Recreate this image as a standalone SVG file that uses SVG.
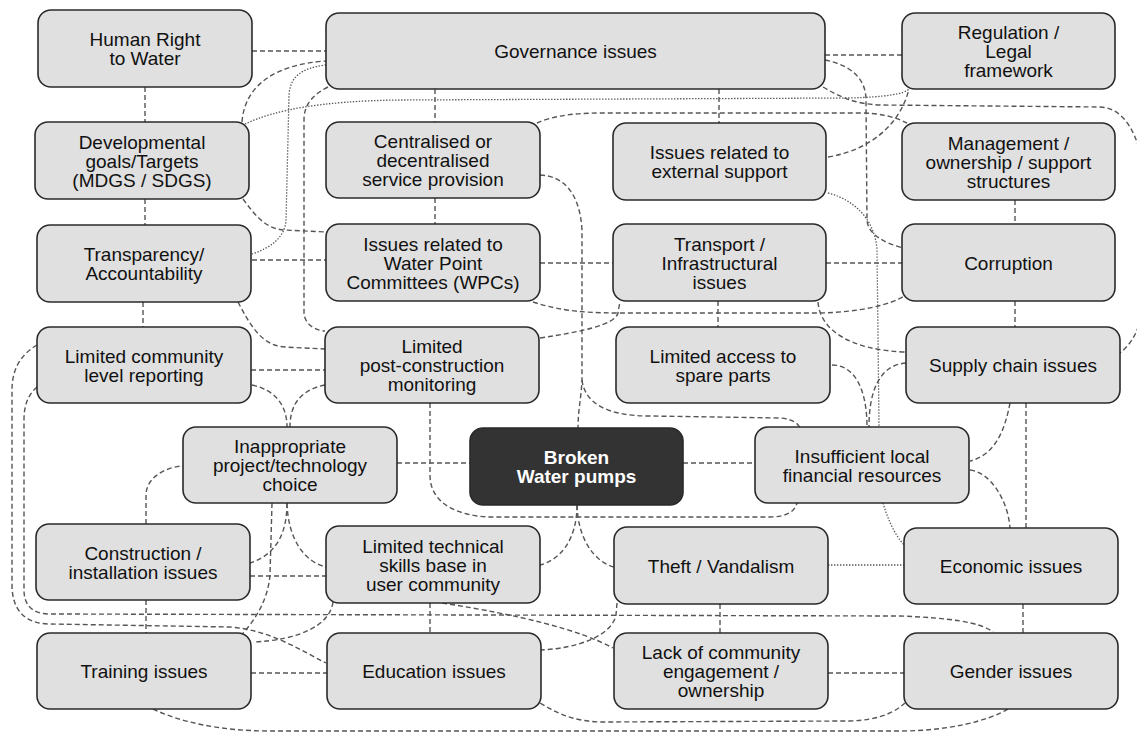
<svg xmlns="http://www.w3.org/2000/svg" width="1137" height="733" viewBox="0 0 1137 733">
<style>
.n rect{fill:#e0e0e0;stroke:#2a2a2a;stroke-width:1.6}
.n text{font-family:"Liberation Sans",Arial,Helvetica,sans-serif;font-size:19px;fill:#111111;text-anchor:middle}
#brk rect{fill:#333333}
#brk text{fill:#ffffff;font-weight:bold}
.c path{fill:none;stroke:#555;stroke-width:1.4}
.c .d{stroke-dasharray:5 3}
.c .t{stroke-dasharray:1.4 1.6;stroke-width:1.3}
</style>
<rect width="1137" height="733" fill="#ffffff"/>
<g class="c" id="connectors">
<path class="d" d="M252,51 H326"/>
<path class="d" d="M145,87 V122"/>
<path class="d" d="M145,199 V225"/>
<path class="d" d="M143,302 V327"/>
<path class="d" d="M242,122 C245,82 280,64 326,61"/>
<path class="t" d="M326,65 C300,68 290,78 289,95 L286,220 C285,238 270,248 252,254"/>
<path class="d" d="M328,87 C312,95 304,105 304,120 L304,312 C304,322 312,330 325,331"/>
<path class="t" d="M245,124 C275,110 320,101 400,100 L850,98 C885,97 905,94 909,89"/>
<path class="d" d="M243,199 C255,215 265,229 285,230 L326,232"/>
<path class="d" d="M252,260 H326"/>
<path class="d" d="M238,302 C250,325 262,346 285,347 L325,349"/>
<path class="d" d="M251,370 H325"/>
<path class="d" d="M252,385 C275,390 287,405 287,427"/>
<path class="d" d="M325,385 C300,390 290,405 290,427"/>
<path class="d" d="M435,89 V122"/>
<path class="d" d="M719,89 V123"/>
<path class="d" d="M537,123 C550,117 570,113 600,113 L860,113 C880,113 895,117 907,123"/>
<path class="d" d="M435,198 V224"/>
<path class="d" d="M540,175 C565,176 580,195 582,230 L582,380 C581,400 578,410 578,428"/>
<path class="d" d="M582,380 C585,405 610,416 650,416 L780,418 C792,419 798,423 800,428"/>
<path class="d" d="M540,263 H613"/>
<path class="d" d="M533,302 C555,309 575,313 620,313 L820,313 C860,312 890,305 904,296"/>
<path class="d" d="M540,338 C580,332 615,325 618,313 L620,301"/>
<path class="d" d="M718,301 V327"/>
<path class="d" d="M826,263 H902"/>
<path class="d" d="M818,302 C820,330 850,350 905,352"/>
<path class="d" d="M832,365 C855,365 867,390 867,427"/>
<path class="d" d="M906,363 C880,365 869,390 869,427"/>
<path class="t" d="M828,193 C855,200 875,220 877,250 L879,427"/>
<path class="d" d="M825,55 H902"/>
<path class="d" d="M823,87 C840,97 855,104 880,105 L1100,107 C1125,108 1140,135 1145,180 L1145,290 C1143,330 1130,345 1120,353"/>
<path class="d" d="M828,157 C870,150 900,125 909,89"/>
<path class="d" d="M825,60 C850,65 866,78 866,100 L867,220 C868,235 885,243 903,248"/>
<path class="d" d="M1015,200 V224"/>
<path class="d" d="M1015,301 V327"/>
<path class="d" d="M1026,403 V528"/>
<path class="d" d="M1010,403 C1005,430 995,455 970,461"/>
<path class="d" d="M970,470 C990,472 1008,500 1010,528"/>
<path class="d" d="M683,463 H755"/>
<path class="d" d="M397,463 H470"/>
<path class="t" d="M883,503 C888,520 895,535 904,545"/>
<path class="d" d="M430,403 L430,475 C430,505 460,516 490,517 L770,517 C785,517 795,512 797,503"/>
<path class="d" d="M577,505 C577,540 560,560 540,565"/>
<path class="d" d="M577,505 C578,540 595,562 614,567"/>
<path class="t" d="M828,565 H904"/>
<path class="d" d="M720,604 V633"/>
<path class="d" d="M1023,604 V633"/>
<path class="d" d="M828,673 H904"/>
<path class="d" d="M540,703 C560,715 575,721 600,722 L850,721 C880,720 895,712 905,703"/>
<path class="d" d="M153,709 C180,722 220,731 270,731 L900,731 C950,731 990,720 1008,709"/>
<path class="d" d="M430,603 V633"/>
<path class="d" d="M333,602 C330,625 300,640 253,642"/>
<path class="d" d="M250,576 H326"/>
<path class="d" d="M146,600 V633"/>
<path class="d" d="M146,524 L146,495 C146,478 165,467 183,466"/>
<path class="d" d="M272,503 L270,575 C268,600 255,620 243,633"/>
<path class="d" d="M287,503 C287,535 275,555 250,563"/>
<path class="d" d="M287,503 C288,540 305,562 326,567"/>
<path class="d" d="M37,345 C20,355 12,370 12,390 L12,585 C12,610 25,624 50,624 L230,627 C270,630 300,650 326,663"/>
<path class="d" d="M37,387 C28,395 24,405 24,420 L24,590 C24,605 32,614 50,614 L900,616 C950,618 980,622 993,632"/>
<path class="d" d="M442,603 C520,615 580,630 613,648"/>
<path class="d" d="M617,603 L616,615 C612,635 580,648 541,650"/>
<path class="d" d="M251,673 H327"/>
</g>
<g class="n" id="hr"><rect x="38" y="10" width="214" height="77" rx="13"/><text x="145" y="46">Human Right</text><text x="145" y="65">to Water</text></g>
<g class="n" id="dev"><rect x="35" y="122" width="214" height="77" rx="13"/><text x="142" y="148.5">Developmental</text><text x="142" y="167.5">goals/Targets</text><text x="142" y="186.5">(MDGS / SDGS)</text></g>
<g class="n" id="tra"><rect x="37" y="225" width="214" height="77" rx="13"/><text x="144" y="261">Transparency/</text><text x="144" y="280">Accountability</text></g>
<g class="n" id="lcr"><rect x="37" y="327" width="214" height="76" rx="13"/><text x="144" y="362.5">Limited community</text><text x="144" y="381.5">level reporting</text></g>
<g class="n" id="ina"><rect x="183" y="427" width="214" height="76" rx="13"/><text x="290" y="453">Inappropriate</text><text x="290" y="472">project/technology</text><text x="290" y="491">choice</text></g>
<g class="n" id="con"><rect x="36" y="524" width="214" height="76" rx="13"/><text x="143" y="559.5">Construction /</text><text x="143" y="578.5">installation issues</text></g>
<g class="n" id="trn"><rect x="37" y="633" width="214" height="76" rx="13"/><text x="144" y="678">Training issues</text></g>
<g class="n" id="gov"><rect x="326" y="13" width="499" height="76" rx="13"/><text x="575.5" y="58">Governance issues</text></g>
<g class="n" id="cen"><rect x="326" y="122" width="214" height="76" rx="13"/><text x="433" y="148">Centralised or</text><text x="433" y="167">decentralised</text><text x="433" y="186">service provision</text></g>
<g class="n" id="wpc"><rect x="326" y="224" width="214" height="77" rx="13"/><text x="433" y="250.5">Issues related to</text><text x="433" y="269.5">Water Point</text><text x="433" y="288.5">Committees (WPCs)</text></g>
<g class="n" id="lpc"><rect x="325" y="327" width="214" height="76" rx="13"/><text x="432" y="353">Limited</text><text x="432" y="372">post-construction</text><text x="432" y="391">monitoring</text></g>
<g class="n" id="brk"><rect x="470" y="428" width="213" height="77" rx="13"/><text x="576.5" y="464">Broken</text><text x="576.5" y="483">Water pumps</text></g>
<g class="n" id="lts"><rect x="326" y="526" width="214" height="77" rx="13"/><text x="433" y="552.5">Limited technical</text><text x="433" y="571.5">skills base in</text><text x="433" y="590.5">user community</text></g>
<g class="n" id="edu"><rect x="327" y="633" width="214" height="76" rx="13"/><text x="434" y="678">Education issues</text></g>
<g class="n" id="ext"><rect x="613" y="123" width="213" height="77" rx="13"/><text x="719.5" y="159">Issues related to</text><text x="719.5" y="178">external support</text></g>
<g class="n" id="trp"><rect x="613" y="224" width="213" height="77" rx="13"/><text x="719.5" y="250.5">Transport /</text><text x="719.5" y="269.5">Infrastructural</text><text x="719.5" y="288.5">issues</text></g>
<g class="n" id="las"><rect x="616" y="327" width="214" height="76" rx="13"/><text x="723" y="362.5">Limited access to</text><text x="723" y="381.5">spare parts</text></g>
<g class="n" id="ins"><rect x="755" y="427" width="214" height="76" rx="13"/><text x="862" y="462.5">Insufficient local</text><text x="862" y="481.5">financial resources</text></g>
<g class="n" id="thf"><rect x="614" y="527" width="214" height="77" rx="13"/><text x="721" y="572.5">Theft / Vandalism</text></g>
<g class="n" id="lac"><rect x="614" y="633" width="214" height="76" rx="13"/><text x="721" y="659">Lack of community</text><text x="721" y="678">engagement /</text><text x="721" y="697">ownership</text></g>
<g class="n" id="reg"><rect x="902" y="13" width="213" height="76" rx="13"/><text x="1008.5" y="39">Regulation /</text><text x="1008.5" y="58">Legal</text><text x="1008.5" y="77">framework</text></g>
<g class="n" id="man"><rect x="902" y="123" width="213" height="77" rx="13"/><text x="1008.5" y="149.5">Management /</text><text x="1008.5" y="168.5">ownership / support</text><text x="1008.5" y="187.5">structures</text></g>
<g class="n" id="cor"><rect x="902" y="224" width="213" height="77" rx="13"/><text x="1008.5" y="269.5">Corruption</text></g>
<g class="n" id="sup"><rect x="906" y="327" width="214" height="76" rx="13"/><text x="1013" y="372">Supply chain issues</text></g>
<g class="n" id="eco"><rect x="904" y="528" width="214" height="76" rx="13"/><text x="1011" y="573">Economic issues</text></g>
<g class="n" id="gen"><rect x="904" y="633" width="214" height="76" rx="13"/><text x="1011" y="678">Gender issues</text></g>
</svg>
